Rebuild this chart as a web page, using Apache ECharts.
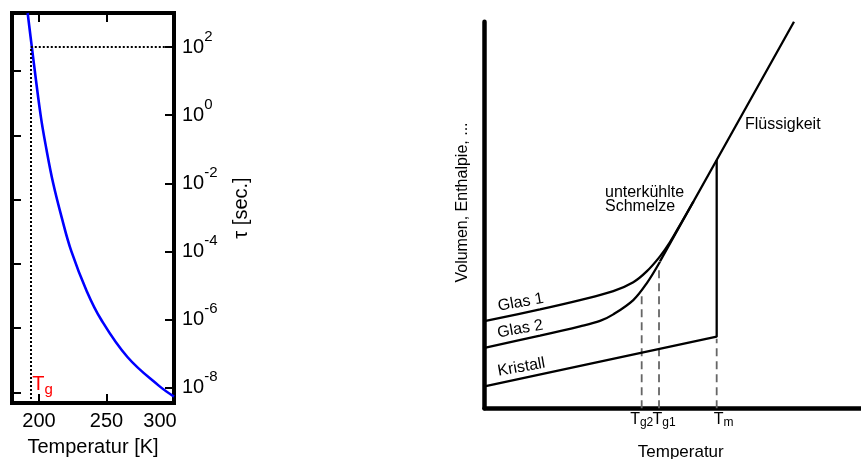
<!DOCTYPE html>
<html><head><meta charset="utf-8">
<script src="https://cdn.jsdelivr.net/npm/echarts@6/dist/echarts.min.js"></script>
<style>html,body{margin:0;padding:0;background:#fff}#c{width:861px;height:459px}</style>
</head><body><div id="c"></div>
<script>
// ---- Left panel: relaxation time tau vs temperature ----
const tempK   = [191.6, 194.7, 201.2, 205.5, 210.5, 216.8, 224.0, 235.3, 246.0, 265.5, 288.7, 300.0];
const logTau  = [3.0, 2.0, 0.0, -1.0, -2.0, -3.0, -4.0, -5.16, -6.0, -7.1, -7.94, -8.26];
const tempTicks = [200, 250, 300];
const tauExpTicks = [-8, -6, -4, -2, 0, 2];
const leftAxisTicks = [0, 1, 2, 3, 4, 5];
const tgK = 193.9;
const logTauAtTg = 2;

// ---- Right panel: schematic volume/enthalpy vs temperature ----
const glas1X = [0, 14.74, 25.37, 34.21, 39.52, 43.08, 46.61, 49.27, 52.38, 55.5];
const glas1Y = [22.53, 25.6, 28.0, 30.3, 32.6, 35.4, 39.3, 43.0, 48.2, 53.48];
const glas2X = [0, 14.74, 25.37, 30.68, 34.21, 39.52, 43.08, 46.61];
const glas2Y = [15.65, 18.8, 21.2, 22.6, 24.3, 28.0, 32.33, 37.92];
const liquidX = [46.61, 61.67, 82.2];
const liquidY = [38.0, 64.23, 100];
const kristallX = [0, 61.67, 61.67];
const kristallY = [5.64, 18.52, 64.23];
const markTemps = [41.75, 46.35, 61.67];
const markTops = [29.7, 35.8, 18.0];
const markSubs = ['g2', 'g1', 'm'];
const markShift = [0, 5, 7];

const FONT = "'Liberation Sans', Arial, sans-serif";
const zip = (a, b) => a.map((v, i) => [v, b[i]]);

const chart = echarts.init(document.getElementById('c'), null, {renderer: 'canvas'});

const dashSeries = markTemps.map((t, i) => ({
  type: 'line', xAxisIndex: 2, yAxisIndex: 2, symbol: 'none', silent: true, clip: false,
  data: [[t, 0], [t, markTops[i]]],
  lineStyle: {color: '#666', width: 1.8, type: [8, 5]},
  markPoint: {silent: true, symbol: 'circle', symbolSize: 0,
    data: [{coord: [t, 0], label: {show: true, position: 'inside', align: 'center', verticalAlign: 'top',
      offset: [markShift[i], 3],
      formatter: '{t|T}{s|' + markSubs[i] + '}',
      rich: {
        t: {fontSize: 16, fontFamily: FONT, color: '#000', lineHeight: 17, verticalAlign: 'top'},
        s: {fontSize: 12, fontFamily: FONT, color: '#000', lineHeight: 12, verticalAlign: 'bottom'}
      }}}]}
}));

const blackLine = {color: '#000', width: 2.3};
const txt = {color: '#000', fontFamily: FONT, fontSize: 16};
const tickStyle = {color: '#000', width: 2};

chart.setOption({
  animation: false,
  backgroundColor: '#fff',
  grid: [
    {left: 12, top: 13, width: 162, height: 390, show: true, borderColor: '#000', borderWidth: 4,
     backgroundColor: 'transparent', containLabel: false, outerBoundsMode: 'none'},
    {left: 484.5, top: 21.7, width: 376.5, height: 386.6, containLabel: false, outerBoundsMode: 'none'}
  ],
  xAxis: [
    {gridIndex: 0, type: 'value', min: 180, max: 300, position: 'bottom',
     axisLine: {show: false, onZero: false}, splitLine: {show: false},
     axisTick: {inside: true, length: 9, customValues: [200, 250], lineStyle: tickStyle},
     axisLabel: {customValues: tempTicks, margin: 8, color: '#000', fontFamily: FONT, fontSize: 20,
       hideOverlap: false,
       formatter: v => v === 300 ? '{r|300}' : String(v),
       rich: {r: {color: '#000', fontFamily: FONT, fontSize: 20, padding: [0, 28, 0, 0]}}},
     name: 'Temperatur [K]', nameLocation: 'middle', nameGap: 34,
     nameTextStyle: {color: '#000', fontFamily: FONT, fontSize: 20}},
    {gridIndex: 0, type: 'value', min: 180, max: 300, position: 'top',
     axisLine: {show: false, onZero: false}, splitLine: {show: false}, axisLabel: {show: false},
     axisTick: {inside: true, length: 9, customValues: [200, 250], lineStyle: tickStyle}},
    {gridIndex: 1, type: 'value', min: 0, max: 100, position: 'bottom',
     axisLine: {onZero: false, lineStyle: {color: '#000', width: 4.5}},
     splitLine: {show: false}, axisTick: {show: false}, axisLabel: {show: false},
     name: 'Temperatur', nameLocation: 'middle', nameGap: 36,
     nameTextStyle: {color: '#000', fontFamily: FONT, fontSize: 17, padding: [0, 0, 0, 16]}}
  ],
  yAxis: [
    {gridIndex: 0, type: 'value', min: -8.45, max: 3, position: 'right',
     axisLine: {show: false, onZero: false}, splitLine: {show: false},
     axisTick: {inside: true, length: 9, customValues: tauExpTicks, lineStyle: tickStyle},
     axisLabel: {customValues: tauExpTicks, margin: 8, color: '#000', hideOverlap: false,
       formatter: v => '{b|10}{s|' + v + '}',
       rich: {
         b: {fontSize: 20, fontFamily: FONT, color: '#000', lineHeight: 36},
         s: {fontSize: 15, fontFamily: FONT, color: '#000', lineHeight: 15, verticalAlign: 'top'}
       }},
     name: 'τ [sec.]', nameLocation: 'middle', nameRotate: 90, nameGap: 57,
     nameTextStyle: {color: '#000', fontFamily: FONT, fontSize: 20}},
    {gridIndex: 0, type: 'value', min: -0.1665, max: 5.9025, position: 'left',
     axisLine: {show: false, onZero: false}, splitLine: {show: false}, axisLabel: {show: false},
     axisTick: {inside: true, length: 9, customValues: leftAxisTicks, lineStyle: tickStyle}},
    {gridIndex: 1, type: 'value', min: 0, max: 100, position: 'left',
     axisLine: {onZero: false, lineStyle: {color: '#000', width: 4.5}},
     splitLine: {show: false}, axisTick: {show: false}, axisLabel: {show: false},
     name: 'Volumen, Enthalpie, ...', nameLocation: 'middle', nameRotate: 90, nameGap: 14,
     nameTextStyle: {color: '#000', fontFamily: FONT, fontSize: 16, padding: [0, 0, 0, 25]}}
  ],
  series: [
    {type: 'line', xAxisIndex: 0, yAxisIndex: 0, symbol: 'none', smooth: 0.4,
     data: zip(tempK, logTau), lineStyle: {color: '#0000ff', width: 2.6},
     markLine: {silent: true, symbol: 'none', label: {show: false},
       lineStyle: {color: '#000', width: 2, type: [2, 2]},
       data: [
         [{coord: [tgK, logTauAtTg]}, {coord: [300, logTauAtTg]}],
         [{coord: [tgK, -8.45]}, {coord: [tgK, logTauAtTg]}]
       ]},
     markPoint: {silent: true, symbol: 'circle', symbolSize: 0,
       data: [{coord: [195, -7.95], label: {show: true, position: 'inside', align: 'left', verticalAlign: 'middle',
         formatter: '{t|T}{s|g}',
         rich: {t: {fontSize: 20, fontFamily: FONT, color: '#ff0000', lineHeight: 22, verticalAlign: 'top'},
                s: {fontSize: 15, fontFamily: FONT, color: '#ff0000', lineHeight: 15, verticalAlign: 'bottom', padding: [5, 0, 0, 0]}}}}]}
    },
    ...dashSeries,
    {type: 'line', xAxisIndex: 2, yAxisIndex: 2, symbol: 'none', data: zip(kristallX, kristallY), lineStyle: blackLine,
     markPoint: {silent: true, symbol: 'circle', symbolSize: 0,
       data: [
         {coord: [9.8, 10.6], label: {show: true, position: 'inside', rotate: 10, ...txt, formatter: 'Kristall'}},
         {coord: [9.5, 20.5], label: {show: true, position: 'inside', rotate: 10, ...txt, formatter: 'Glas 2'}},
         {coord: [9.6, 27.4], label: {show: true, position: 'inside', rotate: 10, ...txt, formatter: 'Glas 1'}},
         {coord: [32.0, 54.1], label: {show: true, position: 'inside', align: 'left', lineHeight: 14, ...txt, formatter: 'unterkühlte\nSchmelze'}},
         {coord: [69.19, 73.3], label: {show: true, position: 'inside', align: 'left', ...txt, formatter: 'Flüssigkeit'}}
       ]}},
    {type: 'line', xAxisIndex: 2, yAxisIndex: 2, symbol: 'none', smooth: 0.35, data: zip(glas1X, glas1Y), lineStyle: blackLine},
    {type: 'line', xAxisIndex: 2, yAxisIndex: 2, symbol: 'none', smooth: 0.35, data: zip(glas2X, glas2Y), lineStyle: blackLine},
    {type: 'line', xAxisIndex: 2, yAxisIndex: 2, symbol: 'none', data: zip(liquidX, liquidY), lineStyle: blackLine}
  ]
});
</script>
</body></html>
